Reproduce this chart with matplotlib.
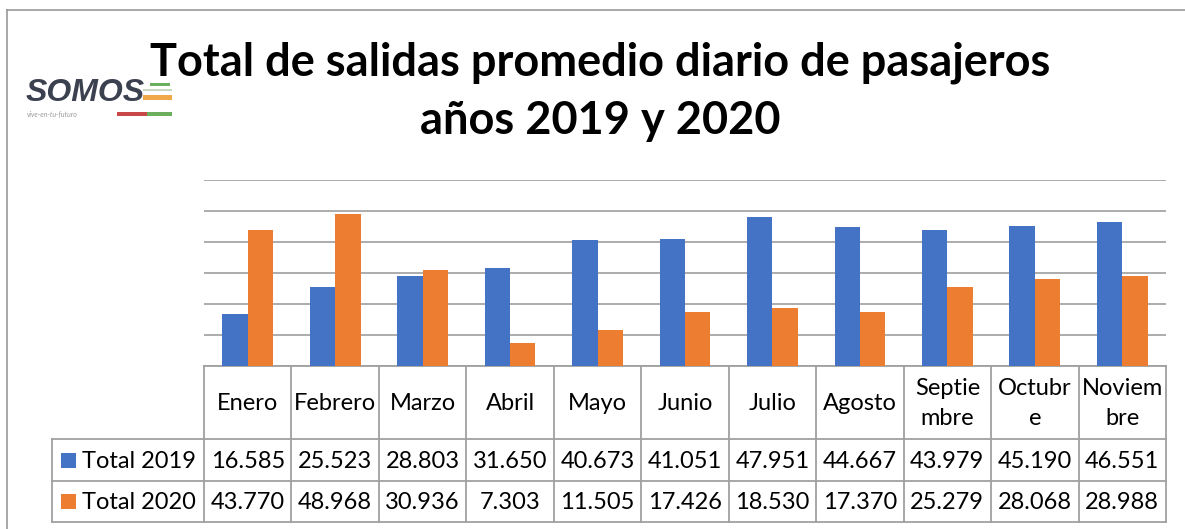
import matplotlib
matplotlib.use("Agg")
import matplotlib.pyplot as plt
import numpy as np
from matplotlib.patches import Rectangle

# ---------------- data ----------------
months = ["Enero", "Febrero", "Marzo", "Abril", "Mayo", "Junio", "Julio",
          "Agosto", "Septiembre", "Octubre", "Noviembre"]
month_labels = ["Enero", "Febrero", "Marzo", "Abril", "Mayo", "Junio", "Julio",
                "Agosto", "Septie\nmbre", "Octubr\ne", "Noviem\nbre"]
total_2019 = [16585, 25523, 28803, 31650, 40673, 41051, 47951, 44667, 43979, 45190, 46551]
total_2020 = [43770, 48968, 30936, 7303, 11505, 17426, 18530, 17370, 25279, 28068, 28988]
series_names = ["Total 2019", "Total 2020"]
title_lines = ["Total de salidas promedio diario de pasajeros", "años 2019 y 2020"]

BLUE = "#4472C4"
ORANGE = "#ED7D31"
GRID = "#a6a6a6"
TLINE = "#a0a0a0"
FONT = "Lato"

W, H = 1185, 529
fig = plt.figure(figsize=(W / 100, H / 100), dpi=100)
fig.patch.set_facecolor("white")


def fx(px):
    return px / W


def fy(py):
    return 1 - py / H


def rect(x0, y0, w, h, c):
    fig.add_artist(Rectangle((fx(x0), fy(y0 + h)), fx(w), h / H, color=c,
                             transform=fig.transFigure, lw=0))


# ---- outer frame (top and left border lines)
fig.add_artist(plt.Line2D([fx(7), 1], [fy(10), fy(10)], color="#9a9a9a", lw=1.2))
fig.add_artist(plt.Line2D([fx(7), fx(7)], [fy(10), 0], color="#9a9a9a", lw=1.2))

# ---- title
fig.text(fx(600), fy(63), title_lines[0],
         ha="center", va="center", fontsize=32.5, fontweight="bold", family=FONT)
fig.text(fx(600), fy(121), title_lines[1],
         ha="center", va="center", fontsize=32.5, fontweight="bold", family=FONT)

# ---- logo (approximation)
fig.text(fx(26), fy(93), "SOMOS", ha="left", va="center", fontsize=23,
         fontweight="bold", style="italic", color="#3c4150", family="Liberation Sans")
rect(150, 83, 20, 3, "#6aae5e")
rect(143, 89, 29, 2, "#c8d8c0")
rect(143, 95, 29, 5, "#f0a848")
fig.text(fx(27), fy(114), "vive-en-tu-futuro", ha="left", va="center", fontsize=5,
         color="#9a9a9a", family=FONT, style="italic")
rect(117, 112, 30, 4, "#c8484a")
rect(147, 112, 25, 4, "#6aae5e")

# ---- main bar axes
ax_l, ax_r, ax_t, ax_b = 204, 1166, 180, 365.5
ax = fig.add_axes([fx(ax_l), fy(ax_b), fx(ax_r - ax_l), (ax_b - ax_t) / H])
x = np.arange(len(months))
bw = 0.29
ax.bar(x - bw / 2, total_2019, width=bw, color=BLUE, zorder=3)
ax.bar(x + bw / 2, total_2020, width=bw, color=ORANGE, zorder=3)
ax.set_xlim(-0.5, len(months) - 0.5)
ax.set_ylim(0, 60000)
ax.set_yticks(np.arange(0, 60001, 10000))
ax.yaxis.grid(True, color=GRID, lw=1.3, zorder=0)
ax.set_axisbelow(True)
ax.tick_params(left=False, bottom=False, labelleft=False, labelbottom=False)
for s in ["left", "right", "top"]:
    ax.spines[s].set_visible(False)
ax.spines["bottom"].set_color(TLINE)
ax.spines["bottom"].set_linewidth(1.3)
ax.patch.set_alpha(0)

# ---- data table axes
tab_l = 52
cw = (ax_r - ax_l) / len(months)
tx = fig.add_axes([fx(tab_l), fy(522), fx(ax_r - tab_l), (522 - ax_b) / H])
xl = -0.5 - (ax_l - tab_l) / cw
tx.set_xlim(xl, len(months) - 0.5)
tx.set_ylim(522, ax_b)
tx.axis("off")
row_cat_bot, row1_bot, row2_bot = 439, 481, 522
lw_t = 1.3
for yy in [row_cat_bot, row1_bot, row2_bot]:
    tx.plot([xl, len(months) - 0.5], [yy, yy], color=TLINE, lw=lw_t, clip_on=False)
for b in np.arange(-0.5, len(months), 1.0):
    tx.plot([b, b], [ax_b, row2_bot], color=TLINE, lw=lw_t, clip_on=False)
tx.plot([xl, xl], [row_cat_bot, row2_bot], color=TLINE, lw=lw_t, clip_on=False)

fs = 17
for i, lab in enumerate(month_labels):
    tx.text(i, (ax_b + row_cat_bot) / 2 + 1, lab, ha="center", va="center",
            fontsize=fs, family=FONT, linespacing=1.55)
    tx.text(i, (row_cat_bot + row1_bot) / 2 + 1, f"{total_2019[i]:,}".replace(",", "."),
            ha="center", va="center", fontsize=fs, family=FONT)
    tx.text(i, (row1_bot + row2_bot) / 2 + 1, f"{total_2020[i]:,}".replace(",", "."),
            ha="center", va="center", fontsize=fs, family=FONT)

# legend keys in table
for name, col, (yt, yb) in zip(series_names, [BLUE, ORANGE],
                               [(row_cat_bot, row1_bot), (row1_bot, row2_bot)]):
    yc = (yt + yb) / 2
    rect(61, yc - 7.5, 15, 15, col)
    fig.text(fx(82), fy(yc + 1), name, ha="left", va="center", fontsize=fs, family=FONT)

fig.savefig("out.png", dpi=100, facecolor="white")
